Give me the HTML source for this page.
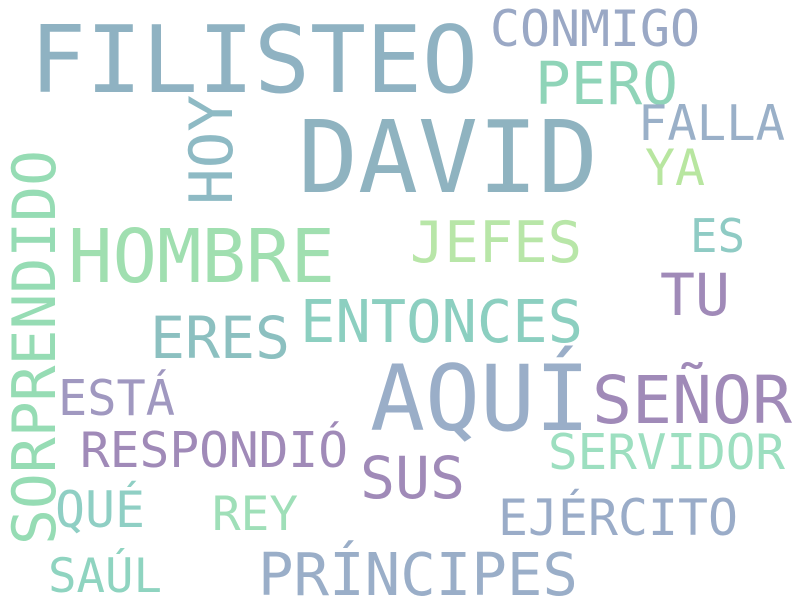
<!DOCTYPE html>
<html>
<head>
<meta charset="utf-8">
<style>
  html,body{margin:0;padding:0;background:#fff;}
  svg{display:block;}
  text{font-family:"DejaVu Sans Mono","Liberation Mono","Noto Sans CJK JP",monospace;}
</style>
</head>
<body>
<svg width="800" height="600" viewBox="0 0 800 600">
  <rect width="800" height="600" fill="#ffffff"/>
  <text x="30" y="92" font-size="93" fill="#8fb2c2" textLength="448" lengthAdjust="spacingAndGlyphs">FILISTEO</text>
  <text x="298" y="192" font-size="100" fill="#8fb3c0" textLength="300" lengthAdjust="spacingAndGlyphs">DAVID</text>
  <text x="490" y="46" font-size="50" fill="#9aa8c5" textLength="210" lengthAdjust="spacingAndGlyphs">CONMIGO</text>
  <text x="535" y="104" font-size="59" fill="#8fd4b8" textLength="143" lengthAdjust="spacingAndGlyphs">PERO</text>
  <text x="638" y="140" font-size="49" fill="#9ab0c8" textLength="147" lengthAdjust="spacingAndGlyphs">FALLA</text>
  <text x="645" y="185" font-size="50" fill="#b8e6a0" textLength="60" lengthAdjust="spacingAndGlyphs">YA</text>
  <text transform="translate(232,205) rotate(-90)" x="0" y="0" font-size="60" fill="#8ebac4" textLength="110" lengthAdjust="spacingAndGlyphs">HOY</text>
  <text transform="translate(55,545) rotate(-90)" x="0" y="0" font-size="60" fill="#96dcb4" textLength="395" lengthAdjust="spacingAndGlyphs">SORPRENDIDO</text>
  <text x="68" y="282" font-size="74" fill="#a0dfb0" textLength="267" lengthAdjust="spacingAndGlyphs">HOMBRE</text>
  <text x="410" y="262" font-size="57" fill="#b8e6a8" textLength="172" lengthAdjust="spacingAndGlyphs">JEFES</text>
  <text x="690" y="252" font-size="46" fill="#8fcbc4" textLength="55" lengthAdjust="spacingAndGlyphs">ES</text>
  <text x="660" y="315" font-size="58" fill="#a08ab8" textLength="70" lengthAdjust="spacingAndGlyphs">TU</text>
  <text x="300" y="342" font-size="59" fill="#8ccfc0" textLength="283" lengthAdjust="spacingAndGlyphs">ENTONCES</text>
  <text x="150" y="358" font-size="58" fill="#8cc0c0" textLength="140" lengthAdjust="spacingAndGlyphs">ERES</text>
  <text x="370" y="430" font-size="91" fill="#9aaec8" textLength="220" lengthAdjust="spacingAndGlyphs">AQUÍ</text>
  <text x="592" y="423" font-size="66" fill="#a08ab8" textLength="200" lengthAdjust="spacingAndGlyphs">SEÑOR</text>
  <text x="58" y="415" font-size="49" fill="#a098c0" textLength="117" lengthAdjust="spacingAndGlyphs">ESTÁ</text>
  <text x="80" y="467" font-size="49" fill="#a08ab8" textLength="268" lengthAdjust="spacingAndGlyphs">RESPONDIÓ</text>
  <text x="360" y="498" font-size="58" fill="#a08ab8" textLength="105" lengthAdjust="spacingAndGlyphs">SUS</text>
  <text x="548" y="469" font-size="49" fill="#9ddfc0" textLength="237" lengthAdjust="spacingAndGlyphs">SERVIDOR</text>
  <text x="55" y="527" font-size="50" fill="#8fcfc4" textLength="90" lengthAdjust="spacingAndGlyphs">QUÉ</text>
  <text x="212" y="530" font-size="47" fill="#9fdfb8" textLength="86" lengthAdjust="spacingAndGlyphs">REY</text>
  <text x="498" y="535" font-size="50" fill="#9aacc8" textLength="240" lengthAdjust="spacingAndGlyphs">EJÉRCITO</text>
  <text x="48" y="592" font-size="47" fill="#8fd4c0" textLength="114" lengthAdjust="spacingAndGlyphs">SAÚL</text>
  <text x="258" y="595" font-size="59" fill="#9aaec8" textLength="320" lengthAdjust="spacingAndGlyphs">PRÍNCIPES</text>
</svg>
</body>
</html>
